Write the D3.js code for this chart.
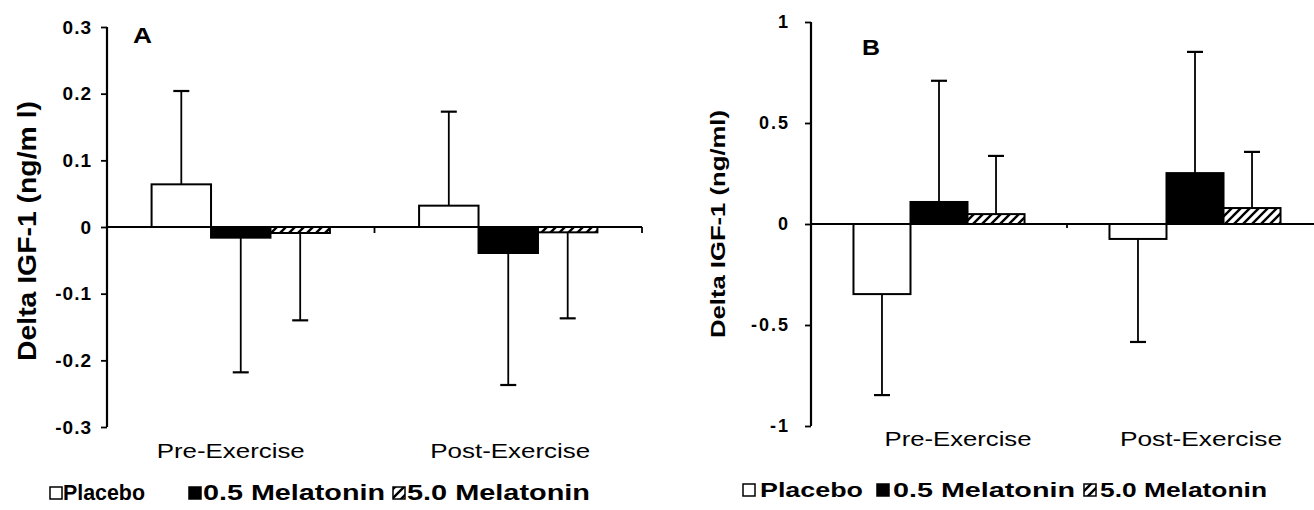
<!DOCTYPE html>
<html>
<head>
<meta charset="utf-8">
<script src="https://cdn.jsdelivr.net/npm/d3@7"></script>
<style>
  html, body { margin: 0; padding: 0; background: #fff; }
  svg { display: block; }
  text { font-family: "Liberation Sans", Arial, sans-serif; fill: #000; }
</style>
</head>
<body>
<svg id="chart" width="1314" height="510"></svg>
<script>
// ---------------- DATA ----------------
const categories = ["Pre-Exercise", "Post-Exercise"];
const seriesNames = ["Placebo", "0.5 Melatonin", "5.0 Melatonin"];

// Panel A (Delta IGF-1, ng/ml)
const meansA = {
  "Placebo":       [0.064, 0.032],
  "0.5 Melatonin": [-0.016, -0.039],
  "5.0 Melatonin": [-0.009, -0.008]
};
const errorsA = {
  "Placebo":       [0.140, 0.141],
  "0.5 Melatonin": [0.202, 0.198],
  "5.0 Melatonin": [0.131, 0.129]
};
const tickValuesA = [-0.3, -0.2, -0.1, 0, 0.1, 0.2, 0.3];
const tickLabelsA = ["-0.3", "-0.2", "-0.1", "0", "0.1", "0.2", "0.3"];

// Panel B (Delta IGF-1, ng/ml)
const meansB = {
  "Placebo":       [-0.347, -0.074],
  "0.5 Melatonin": [0.109, 0.252],
  "5.0 Melatonin": [0.049, 0.079]
};
const errorsB = {
  "Placebo":       [0.500, 0.510],
  "0.5 Melatonin": [0.600, 0.600],
  "5.0 Melatonin": [0.288, 0.278]
};
const tickValuesB = [-1, -0.5, 0, 0.5, 1];
const tickLabelsB = ["-1", "-0.5", "0", "0.5", "1"];

const yTitle = "Delta IGF-1 (ng/ml)";
const yTitleA = "Delta IGF-1 (ng/m l)";

// ---------------- DRAWING ----------------
const svg = d3.select("#chart");
const defs = svg.append("defs");
const pat = defs.append("pattern")
  .attr("id", "hatch").attr("patternUnits", "userSpaceOnUse")
  .attr("width", 9).attr("height", 9);
pat.append("rect").attr("width", 9).attr("height", 9).attr("fill", "#fff");
pat.append("path")
  .attr("d", "M-2,2 L2,-2 M0,9 L9,0 M7,11 L11,7")
  .attr("stroke", "#000").attr("stroke-width", 2.4);

const fills = { "Placebo": "#fff", "0.5 Melatonin": "#000", "5.0 Melatonin": "url(#hatch)" };

function drawPanel(cfg) {
  const g = svg.append("g");
  const y = d3.scaleLinear().domain(cfg.yDomain).range(cfg.yRange);
  const x = d3.scaleBand().domain(categories).range(cfg.xRange).padding(0);
  const xs = d3.scaleBand().domain(seriesNames).range([0, x.bandwidth()])
    .paddingInner(0).paddingOuter(cfg.outerPad);

  // bars
  seriesNames.forEach(s => {
    categories.forEach((c, i) => {
      const v = cfg.means[s][i];
      const e = cfg.errors[s][i];
      const bx = x(c) + xs(s);
      const cx = bx + xs.bandwidth() / 2;
      const tip = v >= 0 ? v + e : v - e;
      // error bar (one-sided, away from zero)
      g.append("line").attr("x1", cx).attr("x2", cx)
        .attr("y1", y(v)).attr("y2", y(tip))
        .attr("stroke", "#000").attr("stroke-width", 1.8);
      g.append("line").attr("x1", cx - cfg.cap / 2).attr("x2", cx + cfg.cap / 2)
        .attr("y1", y(tip)).attr("y2", y(tip))
        .attr("stroke", "#000").attr("stroke-width", 2.2);
      g.append("rect")
        .attr("x", bx).attr("width", xs.bandwidth())
        .attr("y", y(Math.max(0, v))).attr("height", Math.abs(y(v) - y(0)))
        .attr("fill", fills[s]).attr("stroke", "#000").attr("stroke-width", 2);
    });
  });

  // zero line with category-boundary ticks
  g.append("line").attr("x1", cfg.xRange[0]).attr("x2", cfg.xRange[1])
    .attr("y1", y(0)).attr("y2", y(0)).attr("stroke", "#000").attr("stroke-width", 2.2);
  categories.forEach(c => {
    const tx = x(c) + x.bandwidth();
    g.append("line").attr("x1", tx).attr("x2", tx)
      .attr("y1", y(0)).attr("y2", y(0) + cfg.xTick)
      .attr("stroke", "#000").attr("stroke-width", 1.8);
  });

  // y axis
  const axis = d3.axisLeft(y).tickValues(cfg.tickValues)
    .tickFormat((d, i) => cfg.tickLabels[i])
    .tickSize(6).tickSizeOuter(0).tickPadding(cfg.tickPad);
  const ag = g.append("g").attr("transform", `translate(${cfg.xRange[0]},0)`).call(axis);
  ag.attr("font-size", null).attr("font-family", null);
  ag.select(".domain").attr("stroke-width", 2.2).attr("d",
    `M0,${cfg.yRange[1]}V${cfg.yRange[0]}`);
  ag.selectAll(".tick line").attr("stroke-width", 1.8);
  ag.selectAll(".tick text")
    .attr("font-size", cfg.tickFont).attr("font-weight", "bold")
    .style("letter-spacing", cfg.tickSpacing + "px");

  // y title
  g.append("text")
    .attr("transform", `translate(${cfg.titleX},${cfg.titleY}) rotate(-90)`)
    .attr("text-anchor", "middle")
    .attr("font-size", cfg.titleFont).attr("font-weight", "bold")
    .attr("textLength", cfg.titleLen).attr("lengthAdjust", "spacingAndGlyphs")
    .text(cfg.titleText);

  // panel letter
  g.append("text").attr("x", cfg.letterX).attr("y", cfg.letterY)
    .attr("font-size", 22).attr("font-weight", "bold")
    .attr("textLength", cfg.letterW).attr("lengthAdjust", "spacingAndGlyphs")
    .text(cfg.letter);

  // category labels
  categories.forEach((c, i) => {
    g.append("text")
      .attr("x", x(c) + x.bandwidth() / 2 + cfg.catDx[i]).attr("y", cfg.catY)
      .attr("text-anchor", "middle").attr("font-size", cfg.catFont)
      .attr("textLength", cfg.catLen[i]).attr("lengthAdjust", "spacingAndGlyphs")
      .text(c);
  });

  // legend
  seriesNames.forEach((s, i) => {
    const L = cfg.legend[i];
    g.append("rect").attr("x", L.sx).attr("y", cfg.legY - cfg.sw - 1)
      .attr("width", cfg.sw).attr("height", cfg.sw)
      .attr("fill", fills[s]).attr("stroke", "#000").attr("stroke-width", 1.5);
    g.append("text").attr("x", L.tx).attr("y", cfg.legY)
      .attr("font-size", cfg.legFont).attr("font-weight", "bold")
      .attr("textLength", L.w).attr("lengthAdjust", "spacingAndGlyphs")
      .text(s);
  });
}

drawPanel({
  means: meansA, errors: errorsA,
  yDomain: [-0.3, 0.3], yRange: [427, 27], xRange: [107, 642],
  outerPad: 0.75, cap: 16, xTick: 6,
  tickValues: tickValuesA, tickLabels: tickLabelsA,
  tickPad: 9, tickFont: 19, tickSpacing: 1,
  titleText: yTitleA, titleX: 36, titleY: 231, titleFont: 25, titleLen: 260,
  letter: "A", letterX: 133, letterY: 43, letterW: 19,
  catDx: [-10, 2], catY: 458, catFont: 21, catLen: [148, 160],
  legY: 500, legFont: 22, sw: 12,
  legend: [{ sx: 50, tx: 63, w: 82 }, { sx: 189, tx: 203, w: 182 }, { sx: 393, tx: 407, w: 183 }]
});

drawPanel({
  means: meansB, errors: errorsB,
  yDomain: [-1, 1], yRange: [426, 22], xRange: [811, 1323],
  outerPad: 0.745, cap: 16, xTick: 4,
  tickValues: tickValuesB, tickLabels: tickLabelsB,
  tickPad: 15, tickFont: 18, tickSpacing: 2,
  titleText: yTitle, titleX: 725, titleY: 224, titleFont: 21, titleLen: 228,
  letter: "B", letterX: 862, letterY: 55, letterW: 18,
  catDx: [19, 6], catY: 446, catFont: 21, catLen: [147, 162],
  legY: 497, legFont: 21, sw: 12,
  legend: [{ sx: 743, tx: 760, w: 103 }, { sx: 877, tx: 893, w: 182 }, { sx: 1084, tx: 1100, w: 167 }]
});
</script>
</body>
</html>
